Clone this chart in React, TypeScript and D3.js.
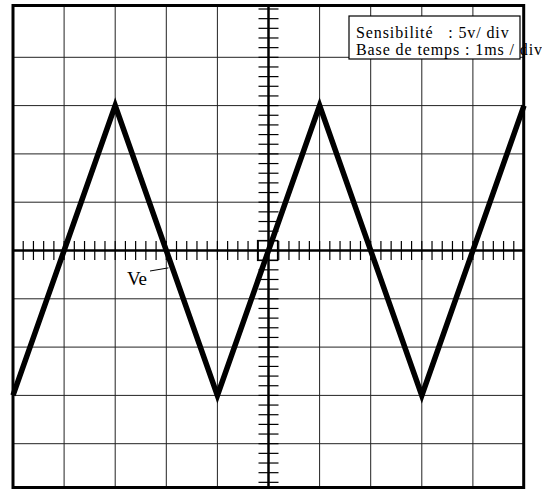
import React from "react"
import { scaleLinear, line, range } from "d3"

// trace Ve : triangle (ms, volts)
const timeMs = [0, 2, 4, 6, 8, 10]
const voltage = [-15, 15, -15, 15, -15, 15]

// 10 x 10 divisions, 5 V/div and 1 ms/div
const timeDivs = range(0, 11, 1)
const voltDivs = range(-25, 30, 5)
const infoLines = ["Sensibilité\u00a0\u00a0 : 5v/ div", "Base de temps : 1ms / div"]
const traceLabel = "Ve"

export default function App() {
    const W = 542
    const H = 489
    const frame = { left: 13, top: 5.5, right: 523.7, bottom: 487.5 }

    const x = scaleLinear().domain([0, 10]).range([13, 524])
    const y = scaleLinear().domain([-25, 25]).range([492, 9])

    const x0 = x(5)
    const y0 = y(0)

    // graduations: 5 per division on both center axes
    const xMinor = range(0, 10.001, 0.2).map(x).filter(p => p > frame.left + 2 && p < frame.right - 2)
    const yMinor = range(-25, 25.001, 1).map(y).filter(p => p > frame.top + 2 && p < frame.bottom - 2)

    const trace = line<number>()
        .x((d, i) => x(timeMs[i]))
        .y(d => y(d))

    // where the "Ve" leader meets the falling edge
    const anchorT = 3.12
    const anchorV = 15 - (anchorT - 2) / 2 * 30

    const font = "'Liberation Serif', 'Times New Roman', serif"

    return (
        <svg width={W} height={H} style={{ position: "absolute", left: 0, top: 0, background: "#fff" }}>
            {/* grid */}
            <g stroke="#222" strokeWidth={1}>
                {timeDivs.slice(1, -1).map(t => (
                    <line key={"v" + t} x1={x(t)} x2={x(t)} y1={frame.top} y2={frame.bottom} />
                ))}
                {voltDivs.slice(1, -1).map(v => (
                    <line key={"h" + v} x1={frame.left} x2={frame.right} y1={y(v)} y2={y(v)} />
                ))}
            </g>

            {/* center axes with graduations */}
            <g stroke="#000">
                <line x1={frame.left} x2={frame.right} y1={y0} y2={y0} strokeWidth={2.5} />
                <line x1={x0} x2={x0} y1={frame.top} y2={frame.bottom} strokeWidth={2.5} />
                {xMinor.map((p, i) => (
                    <line key={"tx" + i} x1={p} x2={p} y1={y0 - 9.5} y2={y0 + 9.5} strokeWidth={1.2} />
                ))}
                {yMinor.map((p, i) => (
                    <line key={"ty" + i} x1={x0 - 10} x2={x0 + 10} y1={p} y2={p} strokeWidth={1.2} />
                ))}
                <rect x={x0 - 11} y={y0 - 10} width={20} height={20} fill="none" strokeWidth={1.2} />
            </g>

            {/* settings box */}
            <rect x={349} y={16} width={171} height={43} fill="#fff" stroke="#000" strokeWidth={1.2} />
            <g fontFamily={font} fontSize={16} fill="#000">
                <text x={356} y={38.3} letterSpacing={0.9} xmlSpace="preserve">{infoLines[0]}</text>
                <text x={356} y={55} letterSpacing={0.9} xmlSpace="preserve">{infoLines[1]}</text>
            </g>

            {/* trace */}
            <path d={trace(voltage) || ""} fill="none" stroke="#000" strokeWidth={5.5} strokeLinejoin="miter" />

            {/* label */}
            <text x={127} y={285} fontFamily={font} fontSize={19}>{traceLabel}</text>
            <line x1={150} y1={271} x2={x(anchorT) - 4} y2={y(anchorV)} stroke="#000" strokeWidth={1} />

            {/* frame */}
            <rect x={frame.left} y={frame.top} width={frame.right - frame.left} height={frame.bottom - frame.top}
                fill="none" stroke="#000" strokeWidth={3} />
        </svg>
    )
}
